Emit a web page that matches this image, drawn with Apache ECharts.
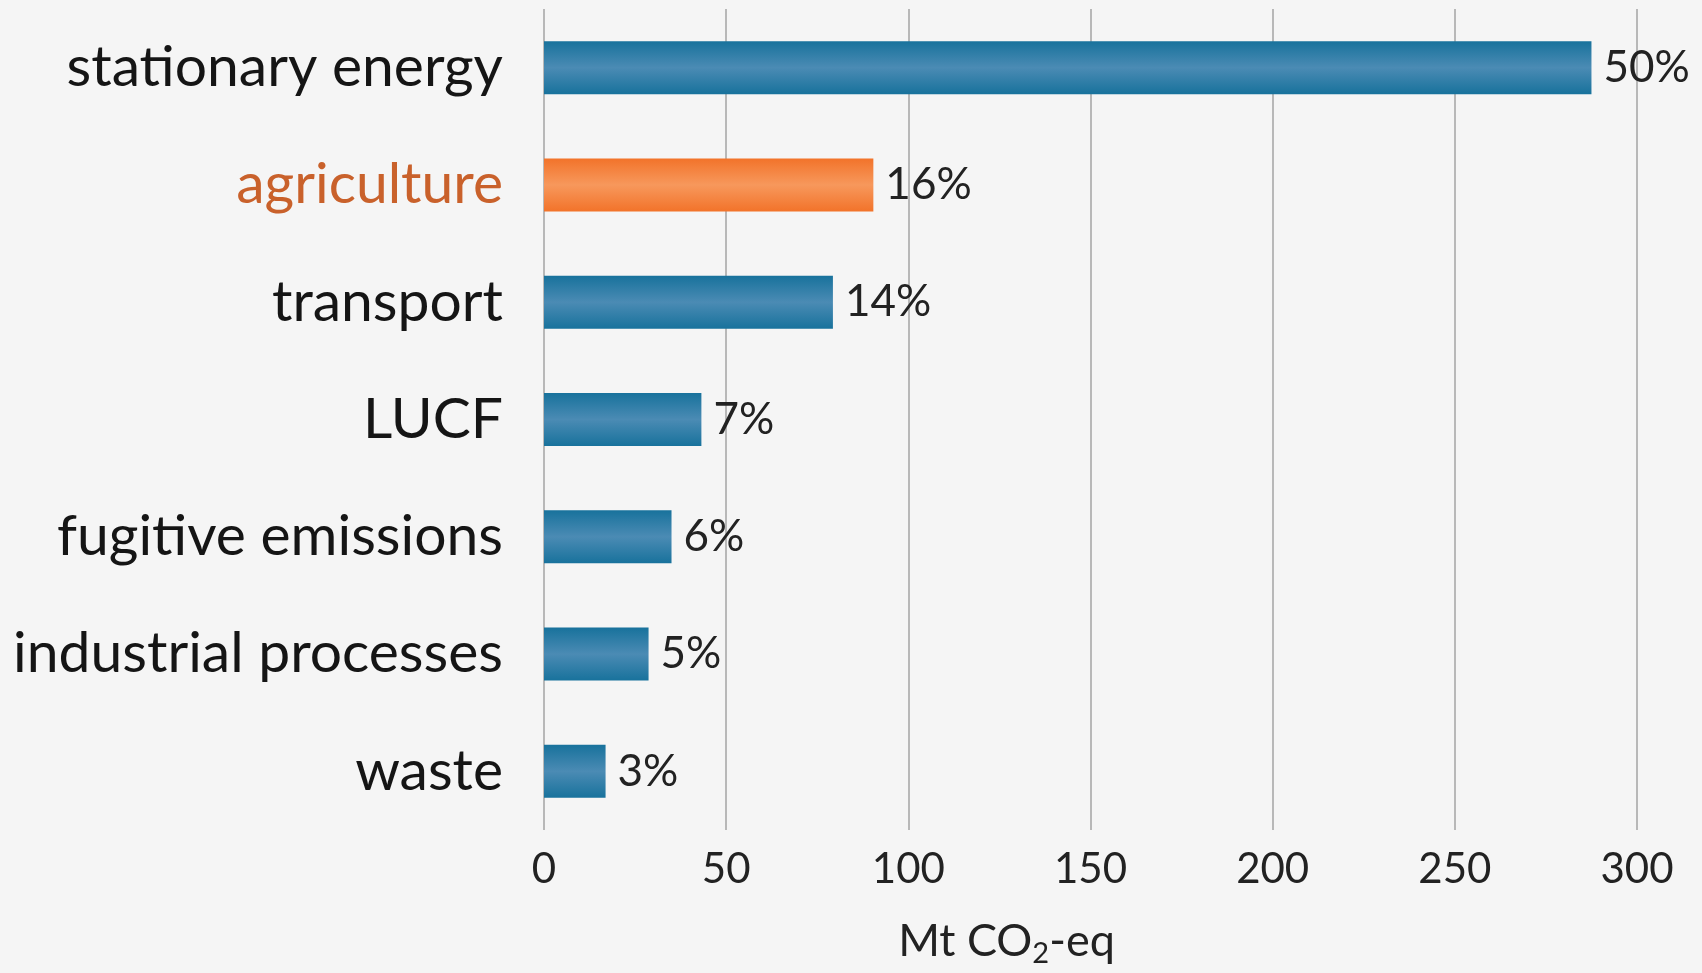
<!DOCTYPE html>
<html>
<head>
<meta charset="utf-8">
<script src="https://cdn.jsdelivr.net/npm/echarts@6/dist/echarts.min.js"></script>
<style>
html,body{margin:0;padding:0;background:#f5f5f5;}
#chart{width:1702px;height:973px;}
</style>
</head>
<body>
<div id="chart"></div>
<script>
const categories = ['stationary energy','agriculture','transport','LUCF','fugitive emissions','industrial processes','waste'];
const values = [287.5, 90.4, 79.3, 43.2, 35.0, 28.7, 16.9];
const pctLabels = ['50%','16%','14%','7%','6%','5%','3%'];
const highlighted = 'agriculture';
const xTicks = [0, 50, 100, 150, 200, 250, 300];

const blueGrad = new echarts.graphic.LinearGradient(0,0,0,1,[
  {offset:0,color:'#18729c'},{offset:0.5,color:'#4b8bb4'},{offset:1,color:'#18729c'}]);
const orangeGrad = new echarts.graphic.LinearGradient(0,0,0,1,[
  {offset:0,color:'#f2732a'},{offset:0.5,color:'#f7985c'},{offset:1,color:'#f2732a'}]);

const seriesData = values.map((v,i)=>({
  value: v,
  itemStyle: {color: categories[i]===highlighted ? orangeGrad : blueGrad}
}));

const chart = echarts.init(document.getElementById('chart'));
chart.setOption({
  backgroundColor:'#f5f5f5',
  animation:false,
  grid:{left:544,right:65,top:9,bottom:140,containLabel:false},
  xAxis:{
    type:'value', min:xTicks[0], max:xTicks[xTicks.length-1], interval:50,
    axisLine:{show:false}, axisTick:{show:false},
    splitLine:{show:true,lineStyle:{color:'#b8b8b8',width:2}},
    axisLabel:{fontFamily:'Lato',fontSize:42,color:'#222',margin:18},
    name:'Mt CO{sub|2}-eq',
    nameLocation:'middle', nameGap:84,
    nameTextStyle:{fontFamily:'Lato',fontSize:45,color:'#222',padding:[0,168,0,0],lineHeight:54,
      rich:{sub:{fontFamily:'Lato',fontSize:29,lineHeight:29,verticalAlign:'bottom',color:'#222'}}}
  },
  yAxis:{
    type:'category', data:categories, inverse:true,
    axisLine:{show:false}, axisTick:{show:false}, splitLine:{show:false},
    axisLabel:{fontFamily:'Lato',fontSize:57,margin:41,
      color:(val)=> val===highlighted ? '#c9612b' : '#151515'}
  },
  series:[{
    type:'bar', data:seriesData, barWidth:53,
    label:{show:true, position:'right', distance:12, fontFamily:'Lato', fontSize:44, color:'#222',
      formatter:(p)=>pctLabels[p.dataIndex]}
  }]
});
</script>
</body>
</html>
